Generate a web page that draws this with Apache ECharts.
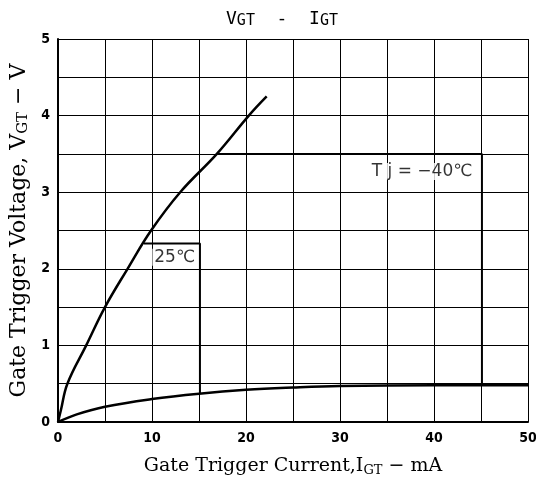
<!DOCTYPE html>
<html>
<head>
<meta charset="utf-8">
<script src="https://cdn.jsdelivr.net/npm/echarts@6/dist/echarts.min.js"></script>
<style>
  html, body { margin: 0; padding: 0; background: #fff; }
  #chart { width: 536px; height: 480px; }
</style>
</head>
<body>
<div id="chart"></div>
<script>
// [IGT mA, VGT V]
const minus40Curve = [[0, 0], [0.3, 0.15], [1, 0.5], [3, 1], [5, 1.5], [7.4, 2], [9.9, 2.5], [13, 3], [16.9, 3.5], [20.3, 4], [22.2, 4.25]]
const plus25Curve = [[0, 0], [2, 0.1], [5, 0.2], [10, 0.3], [15, 0.37], [20, 0.42], [25, 0.45], [30, 0.47], [40, 0.48], [50, 0.48]]
const box25 = [[9.15, 2.33], [15.1, 2.33], [15.1, 0.37]]
const boxMinus40 = [[16.9, 3.5], [45.1, 3.5], [45.1, 0.48]]
const xTickLabels = [0, 10, 20, 30, 40, 50]
const yTickLabels = [0, 1, 2, 3, 4, 5]
const notes = [
  { name: '25℃', value: [15, 2.15] },
  { name: 'T j = −40℃', value: [44.5, 3.27] },
]

const chart = echarts.init(document.getElementById('chart'))

const tickFont = { fontFamily: 'Liberation Sans Narrow, DejaVu Sans Condensed, sans-serif', fontWeight: 'bold', fontSize: 14, color: '#000' }
const nameFont = { fontFamily: 'DejaVu Serif', fontSize: 19, color: '#000' }
const subStyle = { fontFamily: 'DejaVu Serif', fontSize: 13, color: '#000', padding: [8, 0, 0, 0] }

const lineSeries = (data, width) => ({
  type: 'line',
  data: data,
  showSymbol: false,
  lineStyle: { color: '#000', width: width },
  z: 5,
})

chart.setOption({
  animation: false,
  title: {
    text: 'V{s|GT}  -  I{s|GT}',
    left: 277,
    top: 4,
    textAlign: 'center',
    textStyle: {
      fontFamily: 'DejaVu Sans Mono', fontSize: 18, fontWeight: 'normal', color: '#000',
      rich: { s: { fontFamily: 'DejaVu Sans Mono', fontSize: 15, color: '#000', padding: [5, 0, 0, 0] } }
    }
  },
  grid: { left: 58, right: 8, top: 39, bottom: 58, outerBoundsMode: 'none', containLabel: false },
  xAxis: {
    type: 'value', min: 0, max: 50, interval: 5,
    name: 'Gate Trigger Current,I{s|GT} − mA',
    nameLocation: 'middle', nameGap: 34,
    nameTextStyle: Object.assign({}, nameFont, { rich: { s: subStyle } }),
    axisLine: { show: true, lineStyle: { color: '#000', width: 2 } },
    axisTick: { show: false },
    axisLabel: Object.assign({}, tickFont, {
      margin: 9,
      formatter: v => xTickLabels.includes(v) ? String(v) : ''
    }),
    splitLine: { show: true, lineStyle: { color: '#000', width: 1 } },
  },
  yAxis: {
    type: 'value', min: 0, max: 5, interval: 0.5,
    name: 'Gate Trigger Voltage, V{s|GT} − V',
    nameLocation: 'middle', nameGap: 27,
    nameTextStyle: Object.assign({}, nameFont, { fontSize: 22, rich: { s: Object.assign({}, subStyle, { fontSize: 15 }) } }),
    axisLine: { show: true, lineStyle: { color: '#000', width: 2 } },
    axisTick: { show: false },
    axisLabel: Object.assign({}, tickFont, {
      margin: 8,
      formatter: v => yTickLabels.includes(v) ? String(v) : ''
    }),
    splitLine: { show: true, lineStyle: { color: '#000', width: 1 } },
  },
  series: [
    Object.assign(lineSeries(minus40Curve, 2.5), { smooth: 0.4 }),
    Object.assign(lineSeries(plus25Curve, 2.5), { smooth: 0.4 }),
    lineSeries(box25, 2),
    lineSeries(boxMinus40, 2),
    {
      type: 'scatter',
      data: notes,
      symbolSize: 0,
      label: {
        show: true,
        position: 'left',
        distance: 2,
        formatter: p => p.name,
        fontFamily: 'DejaVu Sans', fontSize: 17, color: '#000',
        backgroundColor: '#fff',
        padding: [0, 2, 0, 2]
      },
      z: 6,
    },
  ],
})
</script>
</body>
</html>
